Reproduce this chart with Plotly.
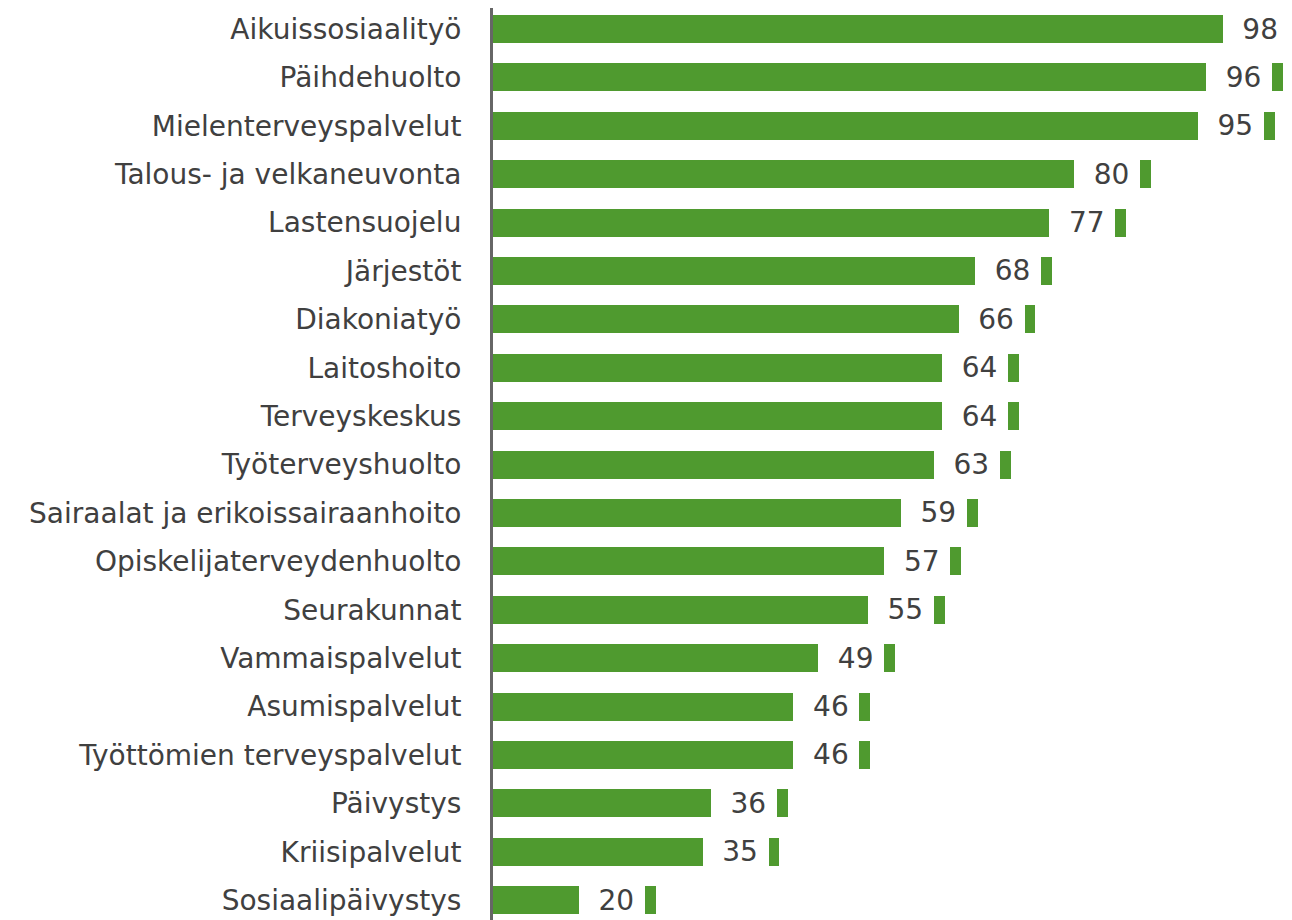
import plotly.graph_objects as go

categories = ["Aikuissosiaalityö", "Päihdehuolto", "Mielenterveyspalvelut",
              "Talous- ja velkaneuvonta", "Lastensuojelu", "Järjestöt", "Diakoniatyö",
              "Laitoshoito", "Terveyskeskus", "Työterveyshuolto",
              "Sairaalat ja erikoissairaanhoito", "Opiskelijaterveydenhuolto",
              "Seurakunnat", "Vammaispalvelut", "Asumispalvelut",
              "Työttömien terveyspalvelut", "Päivystys", "Kriisipalvelut",
              "Sosiaalipäivystys"]
values = [98, 96, 95, 80, 77, 68, 66, 64, 64, 63, 59, 57, 55, 49, 46, 46, 36, 35, 20]
gap = [8] * len(values)
marker_seg = [1.3] * len(values)

GREEN = "#4f9a2f"
TEXT = "#404040"
FONT = "DejaVu Sans"
FS = 28

fig = go.Figure()
fig.add_trace(go.Bar(y=categories, x=values, orientation="h",
                     marker=dict(color=GREEN, line=dict(width=0)), hoverinfo="skip"))
fig.add_trace(go.Bar(y=categories, x=gap, orientation="h",
                     marker=dict(color="rgba(0,0,0,0)", line=dict(width=0)),
                     text=[" " + str(v) for v in values], textposition="inside",
                     insidetextanchor="middle", constraintext="none", textangle=0,
                     textfont=dict(family=FONT, size=FS, color=TEXT), hoverinfo="skip"))
fig.add_trace(go.Bar(y=categories, x=marker_seg, orientation="h",
                     marker=dict(color=GREEN, line=dict(width=0)), hoverinfo="skip"))

fig.update_layout(
    width=1284, height=912, barmode="stack", bargap=0.42, showlegend=False,
    margin=dict(l=485, r=0, t=0, b=0, autoexpand=False),
    paper_bgcolor="white", plot_bgcolor="white",
    font=dict(family=FONT, size=FS, color=TEXT),
    xaxis=dict(range=[9.6, 106.4], showgrid=False, zeroline=False,
               showticklabels=False, ticks="", automargin=False),
    yaxis=dict(range=[18.41, -0.434], showline=True, linecolor="#666666", linewidth=3,
               showgrid=False, ticks="", ticklabelstandoff=23, automargin=False,
               tickfont=dict(family=FONT, size=FS, color=TEXT)),
)

fig.write_html("out.html")
